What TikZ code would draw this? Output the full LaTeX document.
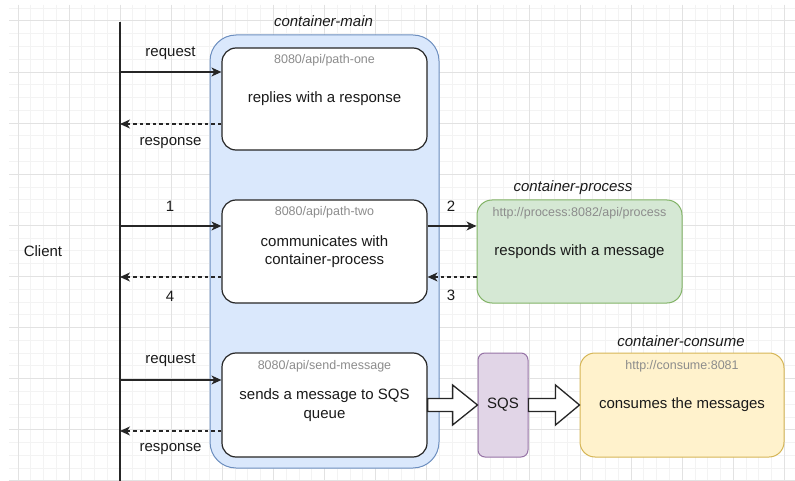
\documentclass[tikz,border=0pt]{standalone}
\usepackage{fontspec}
\setmainfont{Liberation Sans}
\usetikzlibrary{arrows.meta,calc}

\definecolor{gridmajor}{RGB}{226,226,226}
\definecolor{gridminor}{RGB}{243,243,243}
\definecolor{mainfill}{HTML}{DAE8FC}
\definecolor{maindraw}{HTML}{6C8EBF}
\definecolor{procfill}{HTML}{D5E8D4}
\definecolor{procdraw}{HTML}{82B366}
\definecolor{sqsfill}{HTML}{E1D5E7}
\definecolor{sqsdraw}{HTML}{9673A6}
\definecolor{consfill}{HTML}{FFF2CC}
\definecolor{consdraw}{HTML}{D6B656}
\definecolor{inkdark}{HTML}{1A1A1A}
\definecolor{linedark}{HTML}{262626}
\definecolor{urlgray}{HTML}{8C8C8C}

\tikzset{
  txt/.style={font=\fontsize{15}{18.75}\selectfont, text=inkdark, inner sep=0pt, align=center},
  urltext/.style={font=\fontsize{12.5}{15}\selectfont, text=urlgray, inner sep=0pt},
  title/.style={font=\fontsize{15}{18.75}\selectfont\itshape, text=inkdark, inner sep=0pt},
  endpoint/.style={txt, draw=linedark, fill=white, line width=1.2pt, rounded corners=14pt,
    minimum width=205pt},
  service/.style={txt, line width=1pt, rounded corners=15pt},
  tipstyle/.style={-{Stealth[length=10pt,width=9pt,inset=3pt]}},
  req/.style={tipstyle, draw=linedark, line width=1.1pt},
  resp/.style={tipstyle, draw=linedark, line width=1.1pt, dash pattern=on 3.5pt off 3pt},
  blockarrow/.style={draw=linedark, fill=white, line width=1.3pt, line join=miter},
  lbl/.style={txt}
}

\begin{document}
\begin{tikzpicture}[x=1pt, y=-1pt]
  \useasboundingbox (0,0) rectangle (795,481);
  \fill[white] (0,0) rectangle (795,481);

  % background grid: minor and major lines
  \begin{scope}
    \clip (9,5) rectangle (795,481);
    \foreach \k in {0,...,61} {
      \draw[gridminor, line width=1pt] ({18+\k*12.775},5) -- ({18+\k*12.775},481);
    }
    \foreach \k in {-1,...,36} {
      \draw[gridminor, line width=1pt] (9,{21+\k*12.775}) -- (795,{21+\k*12.775});
    }
    \foreach \k in {0,...,15} {
      \draw[gridmajor, line width=1pt] ({18+\k*51.1},5) -- ({18+\k*51.1},481);
    }
    \foreach \k in {0,...,9} {
      \draw[gridmajor, line width=1pt] (9,{21+\k*51.1}) -- (795,{21+\k*51.1});
    }
  \end{scope}

  % client lifeline
  \node[txt] (client) at (43,251) {Client};
  \coordinate (ctop) at (120,22);
  \coordinate (cbot) at (120,481);
  \draw[draw=linedark, line width=1.3pt] (ctop) -- (cbot);

  % main container
  \node[fill=mainfill, draw=maindraw, line width=1pt, rounded corners=26pt,
        minimum width=229pt, minimum height=433pt, inner sep=0pt] (main) at (324.5,251.5) {};
  \node[title] (maintitle) at (323.5,21.5) {container-main};

  % endpoints inside the main container
  \node[endpoint, minimum height=102pt] (b1) at (324.5,99) {replies with a response};
  \node[urltext] (u1) at ($(b1.north)+(0,12.7)$) {8080/api/path-one};

  \node[endpoint, minimum height=103pt] (b2) at (324.5,251.5) {communicates with\\container-process};
  \node[urltext] (u2) at ($(b2.north)+(0,13.3)$) {8080/api/path-two};

  \node[endpoint, minimum height=104pt] (b3) at (324.5,405) {sends a message to SQS\\queue};
  \node[urltext] (u3) at ($(b3.north)+(0,13.7)$) {8080/api/send-message};

  % process container
  \node[service, fill=procfill, draw=procdraw, minimum width=205pt, minimum height=103pt]
        (proc) at (579.5,251.5) {responds with a message};
  \node[urltext] (u4) at ($(proc.north)+(0,13.3)$) {http://process:8082/api/process};
  \node[title] (proctitle) at (573,187.3) {container-process};

  % queue
  \node[txt, fill=sqsfill, draw=sqsdraw, line width=1pt, rounded corners=7pt,
        minimum width=50pt, minimum height=104pt] (sqs) at (503,405) {SQS};

  % consumer container
  \node[service, fill=consfill, draw=consdraw, minimum width=204pt, minimum height=104pt]
        (cons) at (682,405) {consumes the messages};
  \node[urltext] (u5) at ($(cons.north)+(0,13.7)$) {http://consume:8081};
  \node[title] (constitle) at (681,340.7) {container-consume};

  % client <-> path-one
  \coordinate (c1) at (120,72);
  \coordinate (c2) at (120,124);
  \draw[req] (c1) -- (c1 -| b1.west);
  \draw[resp] (c2 -| b1.west) -- (c2);
  \node[lbl] (l1) at (170.5,53.3) {request};
  \node[lbl] (l2) at (170.5,142.7) {response};

  % client <-> path-two <-> process
  \coordinate (c3) at (120,226);
  \coordinate (c4) at (120,277);
  \draw[req] (c3) -- (c3 -| b2.west);
  \draw[resp] (c4 -| b2.west) -- (c4);
  \draw[req] (c3 -| b2.east) -- (c3 -| proc.west);
  \draw[resp] (c4 -| proc.west) -- (c4 -| b2.east);
  \node[lbl] (n1) at (170,206.7) {1};
  \node[lbl] (n2) at (451,206.7) {2};
  \node[lbl] (n3) at (451,295.7) {3};
  \node[lbl] (n4) at (170,296.7) {4};

  % client <-> send-message
  \coordinate (c5) at (120,380);
  \coordinate (c6) at (120,431);
  \draw[req] (c5) -- (c5 -| b3.west);
  \draw[resp] (c6 -| b3.west) -- (c6);
  \node[lbl] (l3) at (170.5,360) {request};
  \node[lbl] (l4) at (170.5,449) {response};

  % block arrows: send-message -> SQS -> consumer
  \draw[blockarrow] ($(b3.east)+(0,-6.5)$) -- ++(25,0) -- ++(0,-13.5) -- (sqs.west)
    -- ($(b3.east)+(25,20)$) -- ++(0,-13.5) -- ($(b3.east)+(0,6.5)$) -- cycle;
  \draw[blockarrow] ($(sqs.east)+(0,-6.5)$) -- ++(27,0) -- ++(0,-13.5) -- (cons.west)
    -- ($(sqs.east)+(27,20)$) -- ++(0,-13.5) -- ($(sqs.east)+(0,6.5)$) -- cycle;
\end{tikzpicture}
\end{document}
